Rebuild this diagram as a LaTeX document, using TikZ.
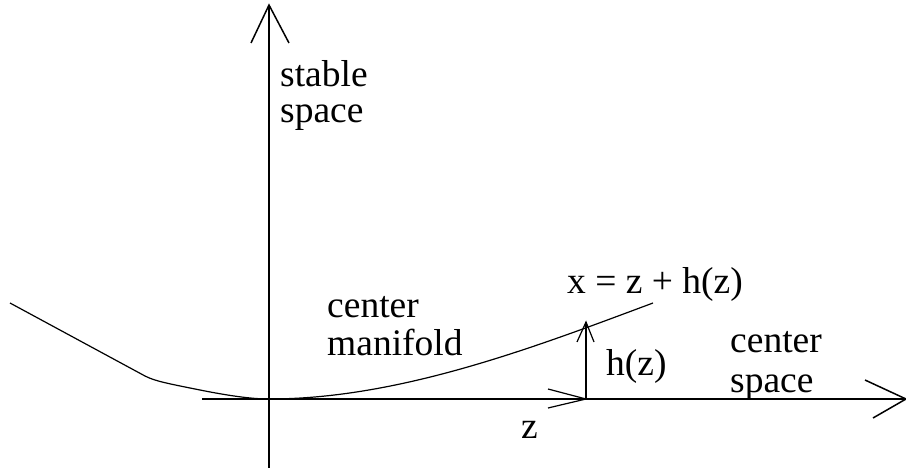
\documentclass[tikz,border=0pt]{standalone}
\usepackage{fontspec}
\setmainfont{Liberation Serif}
\begin{document}
\begin{tikzpicture}[x=1pt,y=-1pt,
  lbl/.style={anchor=base west,inner sep=0pt,font=\fontsize{37.5}{40}\selectfont},
  axis/.style={line width=1.5pt},
  thin/.style={line width=1.2pt}]
\useasboundingbox (0,0) rectangle (906,468);
% axes
\coordinate (vb) at (269,468);
\coordinate (vt) at (269,5);
\coordinate (hl) at (202,399);
\coordinate (hr) at (906,399);
\draw[axis] (vb) -- (vt);
\draw[axis] (251,43) -- (vt) -- (289,43);
\draw[axis] (hl) -- (hr);
\draw[axis] (865,380) -- (hr) -- (873,418);
% center manifold curve
\coordinate (o) at (269,399);
\coordinate (cl) at (10,303);
\coordinate (cr) at (653,303);
\draw[thin] (cl) -- (145,376) .. controls (155,381) and (165,383) .. (200,390)
  .. controls (235,397) and (255,399) .. (o)
  .. controls (400,399) and (535,347) .. (cr);
% z and h(z) arrows
\coordinate (zt) at (586,399);
\coordinate (ht) at (586,322);
\draw[thin] (548,389) -- (zt) -- (548,408);
\draw[thin] (zt) -- (ht);
\draw[thin] (577,342) -- (ht) -- (594,342);
% labels
\node[lbl] (l1) at (280,87) {stable};
\node[lbl] (l2) at (280,123) {space};
\node[lbl] (l3) at (327,317) {center};
\node[lbl] (l4) at (327,355) {manifold};
\node[lbl] (l5) at (567,293) {x = z + h(z)};
\node[lbl] (l6) at (606,375) {h(z)};
\node[lbl] (l7) at (730,352) {center};
\node[lbl] (l8) at (730,392) {space};
\node[lbl] (l9) at (521,438) {z};
\end{tikzpicture}
\end{document}
